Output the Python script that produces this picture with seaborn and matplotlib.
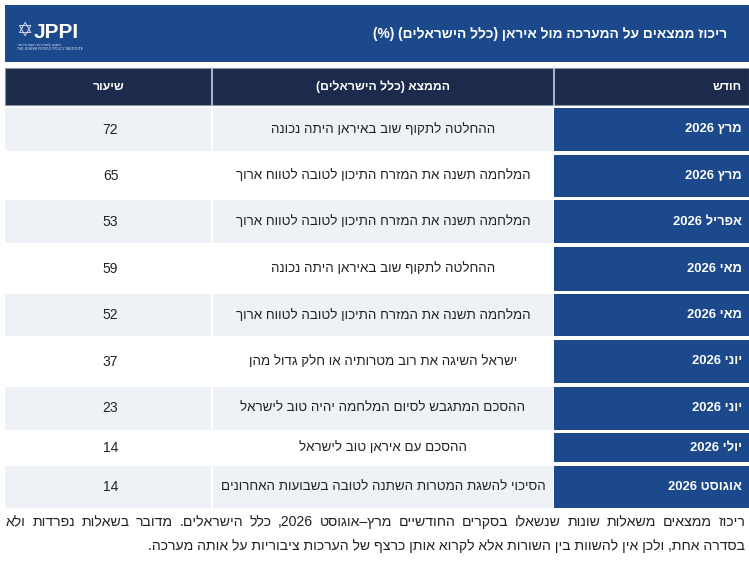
import re
import matplotlib
matplotlib.use("Agg")
import matplotlib.pyplot as plt
from matplotlib.patches import Rectangle
import seaborn as sns

# ---------------- data ----------------
title = "ריכוז ממצאים על המערכה מול איראן (כלל הישראלים) (%)"
col_headers = ["שיעור", "הממצא (כלל הישראלים)", "חודש"]
months = ["מרץ 2026", "מרץ 2026", "אפריל 2026", "מאי 2026", "מאי 2026",
          "יוני 2026", "יוני 2026", "יולי 2026", "אוגוסט 2026"]
findings = [
    "ההחלטה לתקוף שוב באיראן היתה נכונה",
    "המלחמה תשנה את המזרח התיכון לטובה לטווח ארוך",
    "המלחמה תשנה את המזרח התיכון לטובה לטווח ארוך",
    "ההחלטה לתקוף שוב באיראן היתה נכונה",
    "המלחמה תשנה את המזרח התיכון לטובה לטווח ארוך",
    "ישראל השיגה את רוב מטרותיה או חלק גדול מהן",
    "ההסכם המתגבש לסיום המלחמה יהיה טוב לישראל",
    "ההסכם עם איראן טוב לישראל",
    "הסיכוי להשגת המטרות השתנה לטובה בשבועות האחרונים",
]
values = [72, 65, 53, 59, 52, 37, 23, 14, 14]
footnote = [
    "ריכוז ממצאים משאלות שונות שנשאלו בסקרים החודשיים מרץ–אוגוסט 2026, כלל הישראלים. מדובר בשאלות נפרדות ולא",
    "בסדרה אחת, ולכן אין להשוות בין השורות אלא לקרוא אותן כרצף של הערכות ציבוריות על אותה מערכה.",
]

# ---------------- layout / style ----------------
W, H = 749, 562
BLUE = "#1b498c"
NAVY = "#1c2b4b"
LIGHT = "#eef1f6"
TEXT = "#222222"
row_heights = [43, 42, 43, 44, 42, 43, 43, 29, 42]
row_gap = 3.6
first_row_top = 108
col_edges = [5, 212, 554, 749]


def rtl(s):
    """Convert logical Hebrew string to visual order for an LTR renderer."""
    r = s[::-1]
    r = re.sub(r"[0-9A-Za-z%]+", lambda m: m.group(0)[::-1], r)
    return r.translate(str.maketrans("()", ")("))


sns.set_theme(style="white")
plt.rcParams["font.family"] = ["Liberation Sans", "DejaVu Sans"]

fig = plt.figure(figsize=(W / 100, H / 100), dpi=100)
ax = fig.add_axes([0, 0, 1, 1])
ax.set_xlim(0, W)
ax.set_ylim(H, 0)
ax.axis("off")
renderer = fig.canvas.get_renderer()

# title band
ax.add_patch(Rectangle((5, 5), W - 5, 57, color=BLUE, lw=0))
ax.text(727, 34, rtl(title), color="white", fontsize=9.9, fontweight="bold",
        ha="right", va="center")
# logo
ax.text(16, 31, "✡", color="white", fontsize=14, ha="left", va="center",
        family=["DejaVu Sans"], alpha=0.8)
ax.text(34, 32, "JPPI", color="white", fontsize=15, fontweight="bold",
        ha="left", va="center")
ax.text(17, 45, rtl("המכון למדיניות העם היהודי"), color="white", fontsize=2.8,
        ha="left", va="center", alpha=0.85)
ax.text(17, 49, "THE JEWISH PEOPLE POLICY INSTITUTE", color="white", fontsize=2.4,
        ha="left", va="center", alpha=0.85)

# header row
hy0, hy1 = 68, 105
ax.add_patch(Rectangle((5, hy0), W - 5, hy1 - hy0, facecolor=NAVY,
                       edgecolor="#8a93a6", lw=0.8))
for xe in col_edges[1:-1]:
    ax.plot([xe, xe], [hy0, hy1], color="#c9ced8", lw=1.2)
hc = (hy0 + hy1) / 2
ax.text((col_edges[0] + col_edges[1]) / 2, hc, rtl(col_headers[0]), color="white",
        fontsize=8.8, fontweight="bold", ha="center", va="center")
ax.text((col_edges[1] + col_edges[2]) / 2, hc, rtl(col_headers[1]), color="white",
        fontsize=8.8, fontweight="bold", ha="center", va="center")
ax.text(742, hc, rtl(col_headers[2]), color="white",
        fontsize=8.8, fontweight="bold", ha="right", va="center")

# body rows
top = first_row_top
for i, (m, f, v) in enumerate(zip(months, findings, values)):
    h = row_heights[i]
    bg = LIGHT if i % 2 == 0 else "white"
    ax.add_patch(Rectangle((col_edges[0], top), col_edges[1] - col_edges[0] - 1, h,
                           color=bg, lw=0))
    ax.add_patch(Rectangle((col_edges[1] + 1, top), col_edges[2] - col_edges[1] - 2, h,
                           color=bg, lw=0))
    ax.add_patch(Rectangle((col_edges[2], top), col_edges[3] - col_edges[2], h,
                           color=BLUE, lw=0))
    cy = top + h / 2
    ax.text(742, cy, rtl(m), color="white", fontsize=9.4, fontweight="bold",
            ha="right", va="center")
    ax.text((col_edges[1] + col_edges[2]) / 2, cy, rtl(f), color=TEXT, fontsize=9.6,
            ha="center", va="center")
    ax.text((col_edges[0] + col_edges[1]) / 2 + 2, cy, str(v), color=TEXT, fontsize=10,
            ha="center", va="center")
    top += h + row_gap


# footnote (first line justified across the full width)
def justified(line, y, x0, x1, size):
    words = rtl(line).split(" ")
    widths = []
    for w in words:
        t = ax.text(0, 0, w, fontsize=size)
        bb = t.get_window_extent(renderer)
        widths.append(bb.width)
        t.remove()
    gap = (x1 - x0 - sum(widths)) / (len(words) - 1)
    x = x0
    for w, wd in zip(words, widths):
        ax.text(x, y, w, color=TEXT, fontsize=size, ha="left", va="center")
        x += wd + gap


justified(footnote[0], 522, 6, 745, 10.1)
ax.text(745, 546, rtl(footnote[1]), color=TEXT, fontsize=10.1, ha="right", va="center")

fig.savefig("out.png", dpi=100, facecolor="white")
